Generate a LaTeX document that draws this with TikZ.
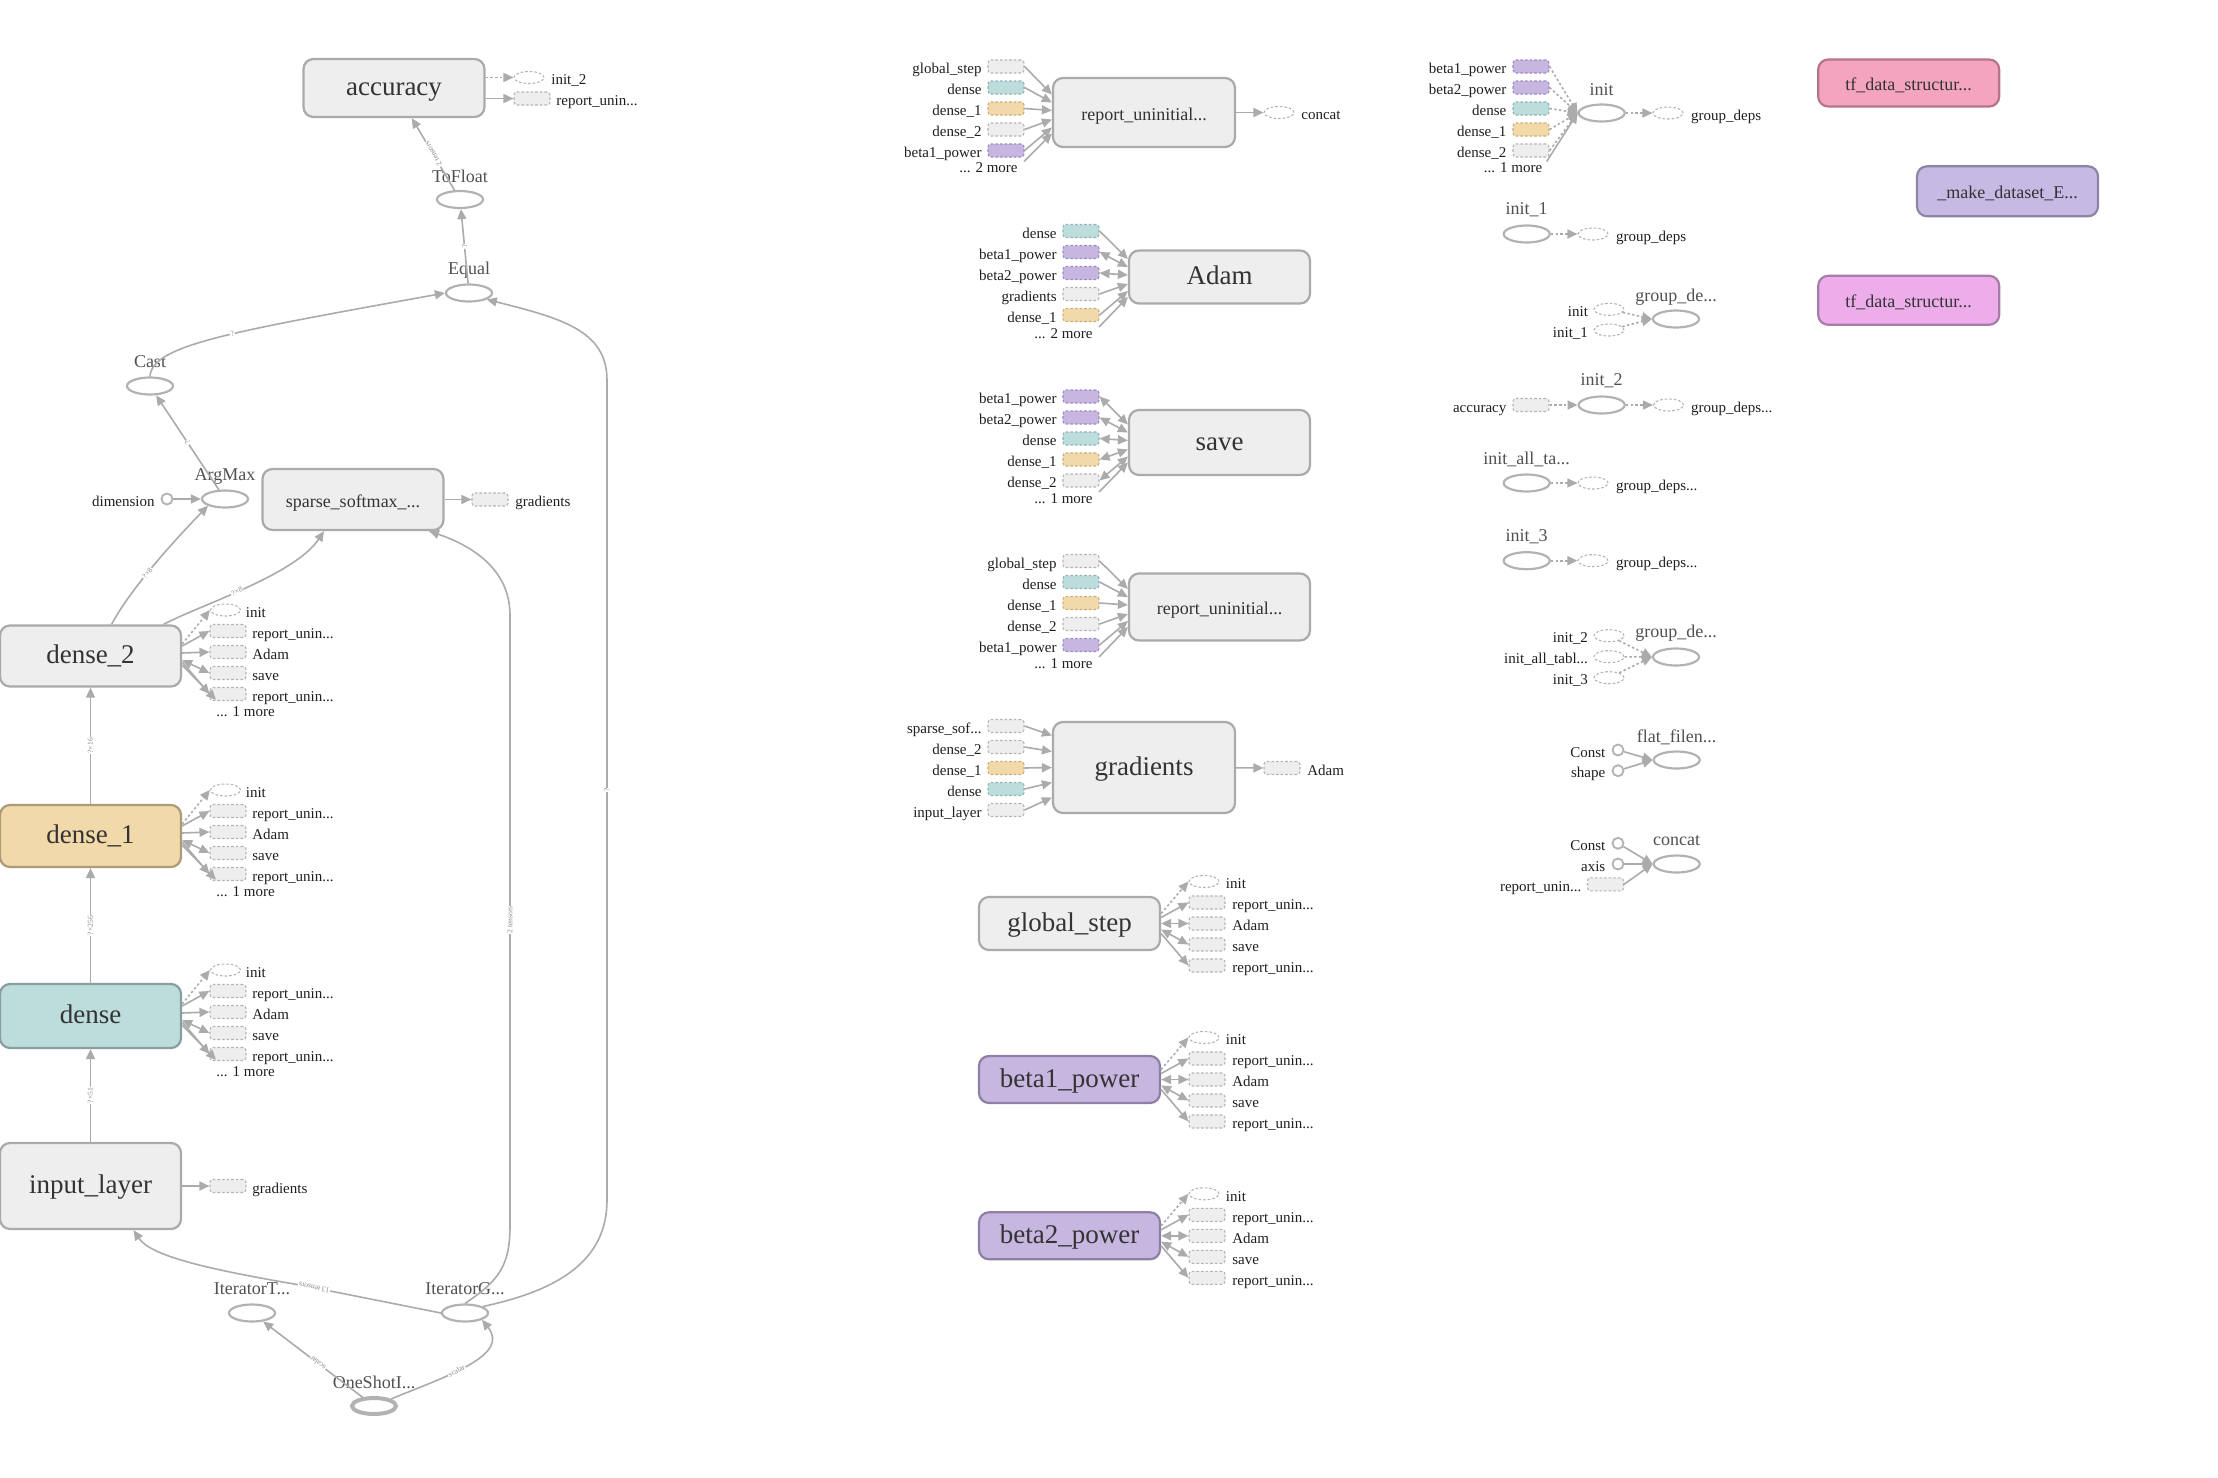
\documentclass[tikz,border=0pt]{standalone}
\usepackage{fontspec}
\setmainfont{Liberation Serif}
\usetikzlibrary{arrows.meta,shapes.geometric}
\definecolor{fgray}{HTML}{EEEEEE}\definecolor{bgray}{HTML}{AAAAAA}\definecolor{dgray}{HTML}{B4B4B4}
\definecolor{fteal}{HTML}{BDDCDC}\definecolor{bteal}{HTML}{879F9F}\definecolor{dteal}{HTML}{93B3B3}
\definecolor{ftan}{HTML}{F1D9A9}\definecolor{btan}{HTML}{AD9A78}\definecolor{dtan}{HTML}{C8AE78}
\definecolor{fpurp}{HTML}{C6B6E0}\definecolor{bpurp}{HTML}{8E7FA5}\definecolor{dpurp}{HTML}{9C8BC2}
\definecolor{fpink}{HTML}{F5A4BF}\definecolor{bpink}{HTML}{B57489}
\definecolor{fmag}{HTML}{ECADEA}\definecolor{bmag}{HTML}{A67CA8}
\definecolor{fmake}{HTML}{C6B9E3}\definecolor{bmake}{HTML}{8F84A5}
\definecolor{ogray}{HTML}{B2B2B2}\definecolor{egray}{HTML}{ABABAB}
\definecolor{txt}{HTML}{333333}\definecolor{otxt}{HTML}{505050}\definecolor{ltxt}{HTML}{1E1E1E}\definecolor{etxt}{HTML}{8A8A8A}
\newcommand\lfan[2]{%
\node[doval] (#1a) at (225.5,#2-46) {};
\node[lab,anchor=west] (#1at) at (245.5,#2-46) {init};
\node[drect] (#1b) at (228,#2-25) {};
\node[lab,anchor=west] (#1bt) at (252,#2-25) {report\_unin...};
\node[drect] (#1c) at (228,#2-4) {};
\node[lab,anchor=west] (#1ct) at (252,#2-4) {Adam};
\node[drect] (#1d) at (228,#2+17) {};
\node[lab,anchor=west] (#1dt) at (252,#2+17) {save};
\node[drect] (#1e) at (228,#2+38) {};
\node[lab,anchor=west] (#1et) at (252,#2+38) {report\_unin...};
\node[lab,anchor=west] (#1f) at (216,#2+53) {... 1 more};
\draw[edgd] ([yshift=6pt]#1.east) -- (#1a.west);
\draw[edg] ([yshift=5pt]#1.east) -- (#1b.west);
\draw[edg] ([yshift=1.5pt]#1.east) -- (#1c.west);
\draw[edgb] ([yshift=-2pt]#1.east) -- (#1d.west);
\draw[edg] ([yshift=-3pt]#1.east) -- (#1e.west);
\draw[edg] ([yshift=-4.5pt]#1.east) -- (#1f.north west);
}
\newcommand\rfan[2]{%
\node[doval] (#1a) at (1204,#2-42) {};
\node[lab,anchor=west] (#1at) at (1225.5,#2-42) {init};
\node[drect] (#1b) at (1207,#2-21) {};
\node[lab,anchor=west] (#1bt) at (1232,#2-21) {report\_unin...};
\node[drect] (#1c) at (1207,#2) {};
\node[lab,anchor=west] (#1ct) at (1232,#2) {Adam};
\node[drect] (#1d) at (1207,#2+21) {};
\node[lab,anchor=west] (#1dt) at (1232,#2+21) {save};
\node[drect] (#1e) at (1207,#2+42) {};
\node[lab,anchor=west] (#1et) at (1232,#2+42) {report\_unin...};
\draw[edgd] ([yshift=5pt]#1.east) -- (#1a.west);
\draw[edg] ([yshift=3pt]#1.east) -- (#1b.west);
\draw[edgb] (#1.east) -- (#1c.west);
\draw[edgb] ([yshift=-3pt]#1.east) -- (#1d.west);
\draw[edg] ([yshift=-5pt]#1.east) -- (#1e.west);
}
\begin{document}
\begin{tikzpicture}[x=0.5pt,y=-0.5pt,
  box/.style={rectangle,rounded corners=5pt,line width=1.1pt,draw=bgray,fill=fgray,text=txt,inner sep=0pt,minimum width=90.5pt,text height=0.82em,text depth=0.06em},
  bigl/.style={font=\fontsize{13.5}{15}\selectfont},
  medl/.style={font=\fontsize{9}{10}\selectfont},
  oval/.style={ellipse,draw=ogray,line width=1.1pt,minimum width=23pt,minimum height=8.5pt,inner sep=0pt},
  doval/.style={ellipse,draw=dgray,line width=0.55pt,dash pattern=on 1.3pt off 1pt,minimum width=15pt,minimum height=6pt,inner sep=0pt},
  drect/.style={rectangle,rounded corners=1.5pt,draw=dgray,fill=fgray,line width=0.55pt,dash pattern=on 1.3pt off 1pt,minimum width=18pt,minimum height=6.5pt,inner sep=0pt},
  cgray/.style={fill=fgray,draw=dgray},
  cteal/.style={fill=fteal,draw=dteal},
  ctan/.style={fill=ftan,draw=dtan},
  cpurp/.style={fill=fpurp,draw=dpurp},
  dot/.style={circle,draw=ogray,line width=0.9pt,minimum size=5.5pt,inner sep=0pt},
  lab/.style={font=\fontsize{7.5}{8}\selectfont,text=ltxt,inner sep=0pt,text height=0.8em,text depth=0.08em},
  olab/.style={font=\fontsize{9}{10}\selectfont,text=otxt,inner sep=0pt},
  elab/.style={font=\fontsize{3.8}{4}\selectfont,text=etxt,inner sep=0.4pt,fill=white,sloped,allow upside down},
  edg/.style={draw=egray,line width=0.8pt,-{Triangle[length=5pt,width=4.5pt]}},
  edgb/.style={draw=egray,line width=0.8pt,{Triangle[length=5pt,width=4.5pt]}-{Triangle[length=5pt,width=4.5pt]}},
  edgd/.style={edg,dash pattern=on 1.2pt off 1.2pt},
]
\useasboundingbox (0,0) rectangle (2218,1478);
% ---------------- left column ----------------
\node[box,bigl,minimum height=29pt] (acc) at (394,88) {accuracy};
\node[doval] (acci) at (529,77.5) {};
\node[lab,anchor=west] (accil) at (551,77.5) {init\_2};
\node[drect] (accr) at (532,98.5) {};
\node[lab,anchor=west] (accrl) at (556,98.5) {report\_unin...};
\draw[edgd] (acc.east|-acci) -- (acci);
\draw[edg] (acc.east|-accr) -- (accr);

\node[oval] (tof) at (460,199.5) {};
\node[olab] (tofl) at (460,176) {ToFloat};
\node[oval] (eq) at (469,293) {};
\node[olab] (eql) at (469,270) {Equal};
\node[oval] (cast) at (150,386) {};
\node[olab] (castl) at (150,362) {Cast};
\node[oval] (amax) at (225,499) {};
\node[olab] (amaxl) at (225,476) {ArgMax};
\node[dot] (dim) at (167,499) {};
\node[lab,anchor=east] (diml) at (155,499) {dimension};
\draw[edg] (dim) -- (amax);
\node[box,medl,minimum height=30.5pt] (ssm) at (353,499.5) {sparse\_softmax\_...};
\node[drect] (ssmg) at (490,499.5) {};
\node[lab,anchor=west] (ssmgl) at (515,499.5) {gradients};
\draw[edg] (ssm.east) -- (ssmg);

\draw[edg] (tof) -- node[elab]{2 tensors} (acc);
\draw[edg] (eq) -- node[elab]{?} (tof);
\draw[edg] (amax) -- node[elab]{?} (cast);
\draw[edg] (cast.north) .. controls (152,345) and (230,332) .. node[elab,pos=0.55]{?} (eq.west);

\node[box,bigl,minimum height=30.5pt] (d2) at (90.5,656) {dense\_2};
\node[box,bigl,minimum height=31pt,fill=ftan,draw=btan] (d1) at (90.5,836) {dense\_1};
\node[box,bigl,minimum height=32pt,fill=fteal,draw=bteal] (den) at (90.5,1016) {dense};
\node[box,bigl,minimum height=43pt] (inp) at (90.5,1186) {input\_layer};
\lfan{d2}{656}
\lfan{d1}{836}
\lfan{den}{1016}
\node[drect] (inpg) at (228,1186) {};
\node[lab,anchor=west] (inpgl) at (252,1186) {gradients};
\draw[edg] (inp.east) -- (inpg);

\draw[edg] (d1) -- node[elab]{?×16} (d2);
\draw[edg] (den) -- node[elab]{?×256} (d1);
\draw[edg] (inp) -- node[elab]{?×51} (den);
\draw[edg] ([xshift=10.5pt]d2.north) .. controls (130,590) and (170,545) .. node[elab,pos=0.45]{?×8} (amax.south west);
\draw[edg] ([xshift=36.5pt]d2.north) .. controls (200,605) and (295,575) .. node[elab,pos=0.45]{?×8} ([xshift=-14.5pt]ssm.south);

\node[oval] (itt) at (252,1313) {};
\node[olab] (ittl) at (252,1289) {IteratorT...};
\node[oval] (itg) at (465,1313) {};
\node[olab] (itgl) at (465,1289) {IteratorG...};
\node[oval,line width=2pt,minimum width=22pt,minimum height=8pt] (osi) at (374,1406) {};
\node[olab] (osil) at (374,1382) {OneShotI...};
\draw[edg] (osi) -- node[elab,pos=0.45]{scalar} (itt);
\draw[edg] (osi.north east) .. controls (450,1375) and (510,1355) .. node[elab,pos=0.4]{scalar} (itg.south east);
\draw[edg] (itg.west) -- node[elab,pos=0.9]{13 tensors} (300,1285) .. controls (200,1268) and (150,1255) .. ([xshift=21.5pt]inp.south);
\draw[edg] (itg.north) .. controls (500,1280) and (510,1265) .. (510,1225) -- node[elab]{2 tensors} (510,615) .. controls (510,570) and (473,546) .. ([xshift=38pt]ssm.south);
\draw[edg] (itg.20) .. controls (560,1290) and (607,1260) .. (607,1200) -- node[elab]{?} (607,380) .. controls (607,330) and (560,318) .. (eq.-20);

% ---------------- middle column ----------------
\node[box,medl,minimum width=91pt,minimum height=34.5pt] (r1) at (1144,112.5) {report\_uninitial...};
\foreach \i/\yy/\ss/\lb/\col in {1/66.5/9pt/global\_step/cgray,2/87.5/5pt/dense/cteal,3/108.5/1pt/dense\_1/ctan,4/129.5/-3.5pt/dense\_2/cgray,5/150.5/-7.5pt/beta1\_power/cpurp}{
 \node[drect,\col] (r1s\i) at (1006,\yy) {};
 \node[lab,anchor=east] (r1t\i) at (982,\yy) {\lb};
 \draw[edg] (r1s\i.east) -- ([yshift=\ss]r1.west);
}
\node[lab,anchor=east] (r1m) at (1018,165.5) {... 2 more};
\draw[edg] ([xshift=3pt,yshift=2pt]r1m.east) -- ([yshift=-10.5pt]r1.west);
\node[doval] (r1o) at (1279,112.5) {};
\node[lab,anchor=west] (r1ol) at (1301,112.5) {concat};
\draw[edg] (r1) -- (r1o);

\node[box,bigl,minimum height=26.5pt] (ad) at (1219.5,277) {Adam};
\foreach \i/\yy/\ss/\lb/\col/\st in {1/231/9pt/dense/cteal/edg,2/252/5pt/beta1\_power/cpurp/edgb,3/273/1pt/beta2\_power/cpurp/edgb,4/294/-3.5pt/gradients/cgray/edg,5/315/-7pt/dense\_1/ctan/edg}{
 \node[drect,\col] (ads\i) at (1081,\yy) {};
 \node[lab,anchor=east] (adt\i) at (1057,\yy) {\lb};
 \draw[\st] (ads\i.east) -- ([yshift=\ss]ad.west);
}
\node[lab,anchor=east] (adm) at (1093,331) {... 2 more};
\draw[edg] ([xshift=3pt,yshift=2pt]adm.east) -- ([yshift=-10pt]ad.west);

\node[box,bigl,minimum height=32.5pt] (sv) at (1219.5,442.5) {save};
\foreach \i/\yy/\ss/\lb/\col in {1/396.5/9pt/beta1\_power/cpurp,2/417.5/5pt/beta2\_power/cpurp,3/438.5/1pt/dense/cteal,4/459.5/-3.5pt/dense\_1/ctan,5/480.5/-7pt/dense\_2/cgray}{
 \node[drect,\col] (svs\i) at (1081,\yy) {};
 \node[lab,anchor=east] (svt\i) at (1057,\yy) {\lb};
 \draw[edgb] (svs\i.east) -- ([yshift=\ss]sv.west);
}
\node[lab,anchor=east] (svm) at (1093,496) {... 1 more};
\draw[edg] ([xshift=3pt,yshift=2pt]svm.east) -- ([yshift=-10pt]sv.west);

\node[box,medl,minimum height=33.5pt] (r2) at (1219.5,607) {report\_uninitial...};
\foreach \i/\yy/\ss/\lb/\col in {1/561/9pt/global\_step/cgray,2/582/5pt/dense/cteal,3/603/1pt/dense\_1/ctan,4/624/-3.5pt/dense\_2/cgray,5/645/-7pt/beta1\_power/cpurp}{
 \node[drect,\col] (r2s\i) at (1081,\yy) {};
 \node[lab,anchor=east] (r2t\i) at (1057,\yy) {\lb};
 \draw[edg] (r2s\i.east) -- ([yshift=\ss]r2.west);
}
\node[lab,anchor=east] (r2m) at (1093,661) {... 1 more};
\draw[edg] ([xshift=3pt,yshift=2pt]r2m.east) -- ([yshift=-10pt]r2.west);

\node[box,bigl,minimum width=91pt,minimum height=45.5pt] (gr) at (1144,767.5) {gradients};
\foreach \i/\yy/\ss/\lb/\col in {1/726/16pt/{sparse\_sof...}/cgray,2/747/8pt/dense\_2/cgray,3/768/0pt/dense\_1/ctan,4/789/-7.5pt/dense/cteal,5/810/-15pt/input\_layer/cgray}{
 \node[drect,\col] (grs\i) at (1006,\yy) {};
 \node[lab,anchor=east] (grt\i) at (982,\yy) {\lb};
 \draw[edg] (grs\i.east) -- ([yshift=\ss]gr.west);
}
\node[drect] (gro) at (1282,768) {};
\node[lab,anchor=west] (grol) at (1307,768) {Adam};
\draw[edg] (gr) -- (gro);

\node[box,bigl,minimum height=26.5pt] (gs) at (1069.5,923.5) {global\_step};
\node[box,bigl,minimum height=23.5pt,fill=fpurp,draw=bpurp] (b1) at (1069.5,1079.5) {beta1\_power};
\node[box,bigl,minimum height=23.5pt,fill=fpurp,draw=bpurp] (b2) at (1069.5,1235.8) {beta2\_power};
\rfan{gs}{923.5}
\rfan{b1}{1079.5}
\rfan{b2}{1235.8}

% ---------------- right column ----------------
\node[oval] (init) at (1601.7,113) {};
\node[olab] (initl) at (1601.7,89.3) {init};
\foreach \i/\yy/\lb/\col in {1/66.5/beta1\_power/cpurp,2/87.5/beta2\_power/cpurp,3/108.5/dense/cteal,4/129.5/dense\_1/ctan,5/150.5/dense\_2/cgray}{
 \node[drect,\col] (ins\i) at (1531,\yy) {};
 \node[lab,anchor=east] (inl\i) at (1506.7,\yy) {\lb};
 \draw[edgd] (ins\i.east) -- (init.west);
}
\node[lab,anchor=east] (inm) at (1542.7,165.5) {... 1 more};
\draw[edg] ([xshift=2pt,yshift=2pt]inm.east) -- (init.west);
\node[doval] (inito) at (1668,113) {};
\node[lab,anchor=west] (initol) at (1690.7,113) {group\_deps};
\draw[edgd] (init) -- (inito);

\node[oval] (i1) at (1526.7,234) {};
\node[olab] (i1l) at (1526.7,210) {init\_1};
\node[doval] (i1o) at (1593,234) {};
\node[lab,anchor=west] (i1ol) at (1615.7,234) {group\_deps};
\draw[edgd] (i1) -- (i1o);

\node[oval] (g1) at (1676,319) {};
\node[olab] (g1l) at (1676,296.7) {group\_de...};
\node[doval] (g1a) at (1609,309.3) {};
\node[lab,anchor=east] (g1al) at (1588.3,309.3) {init};
\node[doval] (g1b) at (1609,330) {};
\node[lab,anchor=east] (g1bl) at (1588.3,330) {init\_1};
\draw[edgd] (g1a) -- (g1.west);
\draw[edgd] (g1b) -- (g1.west);

\node[oval] (i2) at (1601.7,405) {};
\node[olab] (i2l) at (1601.7,381) {init\_2};
\node[drect] (i2a) at (1531,405) {};
\node[lab,anchor=east] (i2al) at (1506.7,405) {accuracy};
\draw[edgd] (i2a) -- (i2);
\node[doval] (i2o) at (1668.5,405) {};
\node[lab,anchor=west] (i2ol) at (1690.7,405) {group\_deps...};
\draw[edgd] (i2) -- (i2o);

\node[oval] (ia) at (1526.7,483) {};
\node[olab] (ial) at (1526.7,459.3) {init\_all\_ta...};
\node[doval] (iao) at (1593,483) {};
\node[lab,anchor=west] (iaol) at (1615.7,483) {group\_deps...};
\draw[edgd] (ia) -- (iao);

\node[oval] (i3) at (1526.7,560.7) {};
\node[olab] (i3l) at (1526.7,536.7) {init\_3};
\node[doval] (i3o) at (1593,560.7) {};
\node[lab,anchor=west] (i3ol) at (1615.7,560.7) {group\_deps...};
\draw[edgd] (i3) -- (i3o);

\node[oval] (g2) at (1676,657) {};
\node[olab] (g2l) at (1676,633.3) {group\_de...};
\foreach \i/\yy/\lb in {1/635.7/init\_2,2/656.7/{init\_all\_tabl...},3/677.7/init\_3}{
 \node[doval] (g2s\i) at (1609,\yy) {};
 \node[lab,anchor=east] (g2t\i) at (1588.3,\yy) {\lb};
 \draw[edgd] (g2s\i) -- (g2.west);
}

\node[oval] (ff) at (1676.7,760) {};
\node[olab] (ffl) at (1676.7,737.3) {flat\_filen...};
\node[dot] (ffa) at (1618,750) {};
\node[lab,anchor=east] (ffal) at (1605.7,750) {Const};
\node[dot] (ffb) at (1618,770.7) {};
\node[lab,anchor=east] (ffbl) at (1605.7,770.7) {shape};
\draw[edg] (ffa) -- (ff.west);
\draw[edg] (ffb) -- (ff.west);

\node[oval] (cc) at (1676.7,864) {};
\node[olab] (ccl) at (1676.7,840.7) {concat};
\node[dot] (cca) at (1618,843.3) {};
\node[lab,anchor=east] (ccal) at (1605.7,843.3) {Const};
\node[dot] (ccb) at (1618,864) {};
\node[lab,anchor=east] (ccbl) at (1605.7,864) {axis};
\node[drect] (ccr) at (1605.5,884.3) {};
\node[lab,anchor=east] (ccrl) at (1581.7,884.3) {report\_unin...};
\draw[edg] (cca) -- (cc.west);
\draw[edg] (ccb) -- (cc.west);
\draw[edg] (ccr.east) -- (cc.west);

\node[box,medl,minimum height=23.5pt,fill=fpink,draw=bpink] (tf1) at (1908.7,83) {tf\_data\_structur...};
\node[box,medl,minimum height=25pt,fill=fmake,draw=bmake] (mk) at (2007.5,191.3) {\_make\_dataset\_E...};
\node[box,medl,minimum height=24.5pt,fill=fmag,draw=bmag] (tf2) at (1908.7,300.3) {tf\_data\_structur...};
\end{tikzpicture}
\end{document}
